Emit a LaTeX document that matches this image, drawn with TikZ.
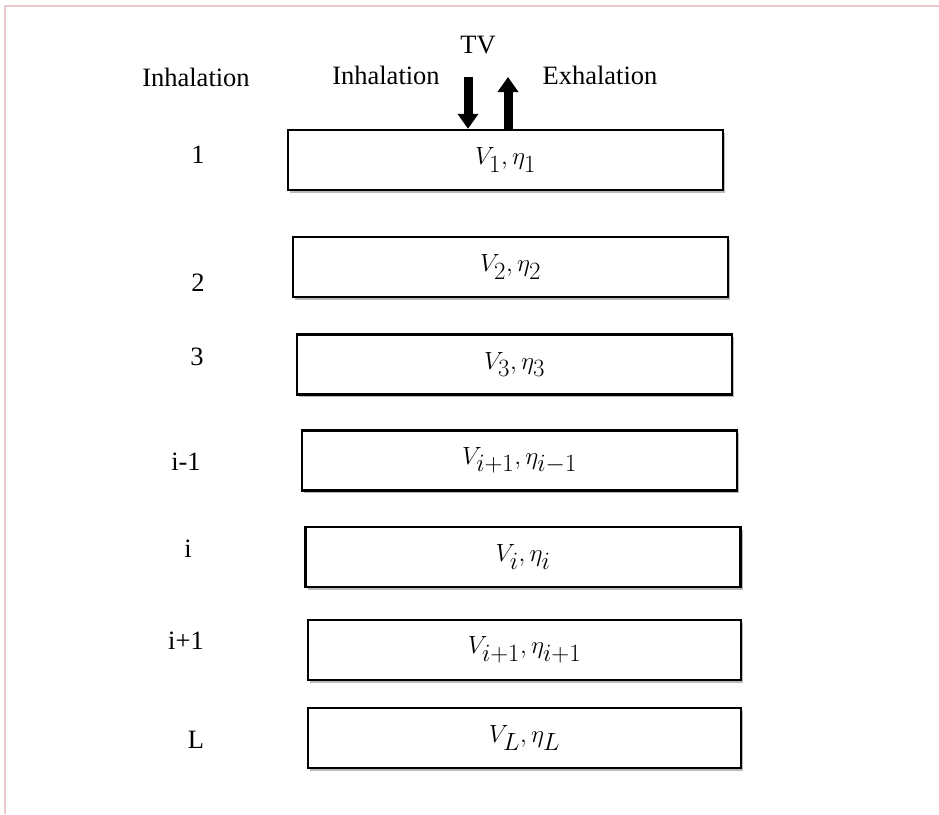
\documentclass[tikz,border=0pt]{standalone}
\usepackage{fontspec}
\setmainfont{Liberation Serif}
\usetikzlibrary{arrows.meta,shadows}
\begin{document}
\begin{tikzpicture}[x=1pt,y=-1pt,
  every node/.style={inner sep=0pt, font=\fontsize{26.5}{30}\selectfont},
  layer/.style={draw=black, line width=2.4pt, fill=white, minimum width=435pt, minimum height=60pt,
     drop shadow={shadow xshift=2pt, shadow yshift=-2.5pt, fill=black!45, opacity=0.6},
     font=\fontsize{33}{36}\selectfont},
  lbl/.style={text=black},
  fat/.style={line width=9pt, -{Triangle[width=20pt,length=15pt]}},
  frame/.style={draw={rgb,255:red,238;green,200;blue,205}, line width=2pt}
]
\useasboundingbox (0,0) rectangle (939,814);
\fill[white] (0,0) rectangle (939,814);
\draw[frame] (5,814) -- (5,6) -- (939,6);

% layers
\node[layer] (b1) at (505.5,160) {$V_1,\eta_1$};
\node[layer] (b2) at (510.5,267) {$V_2,\eta_2$};
\node[layer] (b3) at (514.5,364.5) {$V_3,\eta_3$};
\node[layer] (b4) at (519.5,460.5) {$V_{i+1},\eta_{i-1}$};
\node[layer] (b5) at (523,557) {$V_i,\eta_i$};
\node[layer, minimum width=433pt] (b6) at (524.5,650) {$V_{i+1},\eta_{i+1}$};
\node[layer, minimum width=433pt] (b7) at (524.5,738) {$V_L,\eta_L$};

% labels
\node[lbl] (inh1) at (196,77) {Inhalation};
\node[lbl] (inh2) at (386,75) {Inhalation};
\node[lbl] (tv) at (478,45) {TV};
\node[lbl] (exh) at (600,75) {Exhalation};

\node[lbl] (n1) at (198,155) {1};
\node[lbl] (n2) at (198,283) {2};
\node[lbl] (n3) at (197,357) {3};
\node[lbl] (n4) at (186,462) {i-1};
\node[lbl] (n5) at (188,549) {i};
\node[lbl] (n6) at (186,641) {i+1};
\node[lbl] (n7) at (196,740) {L};

% arrows
\coordinate (inTop) at (468,77);
\coordinate (exTop) at (508,77);
\draw[fat] (inTop) -- (inTop |- b1.north);
\draw[fat] (exTop |- b1.north) -- (exTop);
\end{tikzpicture}
\end{document}
